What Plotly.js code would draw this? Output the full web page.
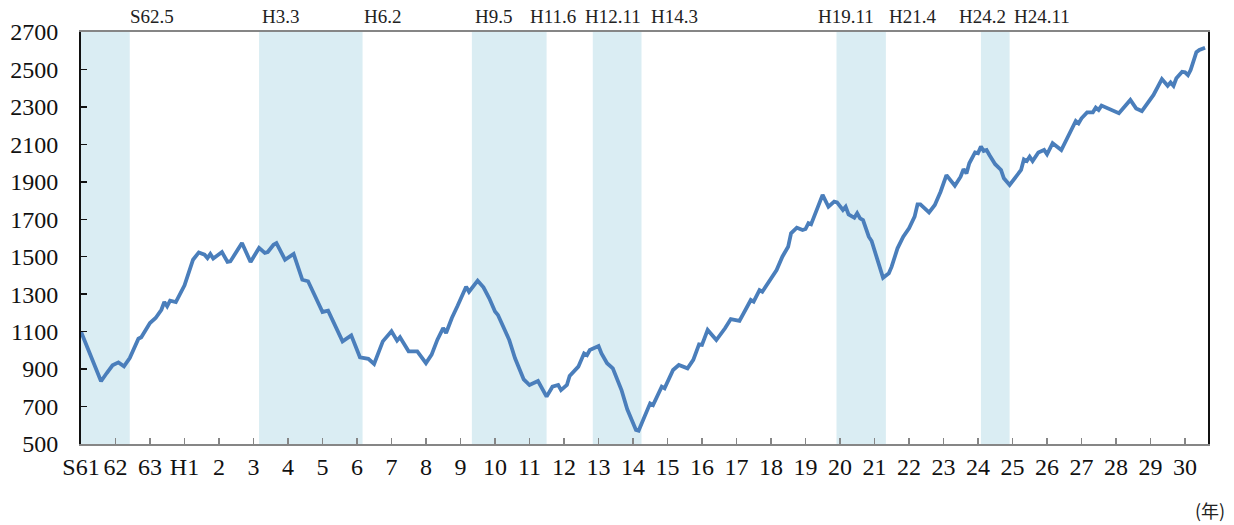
<!DOCTYPE html>
<html>
<head>
<meta charset="utf-8">
<script src="https://cdn.plot.ly/plotly-3.0.1.min.js"></script>
<style>html,body{margin:0;padding:0;background:#fff;}#chart{width:1234px;height:525px;}</style>
</head>
<body>
<div id="chart"></div>
<script>
const months = ['1986-01','1986-08','1986-10','1986-12','1987-02','1987-04','1987-06','1987-09','1987-10','1988-01','1988-03','1988-05','1988-06','1988-07','1988-08','1988-10','1989-01','1989-04','1989-06','1989-08','1989-09','1989-10','1989-11','1990-02','1990-04','1990-05','1990-09','1990-12','1991-03','1991-05','1991-06','1991-08','1991-09','1991-12','1992-03','1992-06','1992-08','1993-01','1993-03','1993-08','1993-11','1994-02','1994-05','1994-07','1994-10','1995-01','1995-03','1995-04','1995-07','1995-10','1996-01','1996-03','1996-05','1996-07','1996-08','1996-10','1996-12','1997-03','1997-04','1997-07','1997-09','1997-11','1998-01','1998-02','1998-06','1998-08','1998-11','1999-01','1999-04','1999-07','1999-09','1999-11','1999-12','2000-02','2000-03','2000-06','2000-08','2000-09','2000-10','2001-01','2001-02','2001-04','2001-06','2001-09','2001-11','2002-02','2002-03','2002-07','2002-08','2002-11','2002-12','2003-03','2003-05','2003-07','2003-08','2003-10','2003-12','2004-01','2004-03','2004-06','2004-07','2004-09','2004-11','2005-02','2005-06','2005-07','2005-09','2005-10','2006-03','2006-05','2006-07','2006-08','2006-10','2006-12','2007-01','2007-02','2007-03','2007-05','2007-07','2007-09','2007-11','2007-12','2008-02','2008-03','2008-04','2008-06','2008-07','2008-08','2008-09','2008-11','2008-12','2009-02','2009-04','2009-06','2009-07','2009-09','2009-11','2010-01','2010-03','2010-04','2010-05','2010-08','2010-10','2010-12','2011-02','2011-05','2011-07','2011-08','2011-09','2011-10','2011-12','2012-01','2012-02','2012-03','2012-04','2012-05','2012-07','2012-09','2012-10','2012-12','2013-02','2013-04','2013-05','2013-06','2013-07','2013-08','2013-10','2013-12','2014-01','2014-03','2014-06','2014-09','2014-11','2014-12','2015-01','2015-03','2015-05','2015-06','2015-07','2015-08','2015-11','2016-02','2016-06','2016-08','2016-10','2016-12','2017-02','2017-05','2017-07','2017-08','2017-09','2017-10','2017-12','2018-01','2018-02','2018-03','2018-05','2018-06','2018-08'];
const values = [1100,835,879,920,936,915,959,1062,1070,1146,1173,1217,1258,1235,1265,1258,1347,1484,1523,1511,1493,1515,1490,1525,1472,1475,1573,1472,1547,1520,1525,1564,1573,1484,1515,1377,1369,1205,1212,1048,1080,963,955,927,1048,1102,1052,1070,995,995,932,977,1057,1119,1093,1173,1238,1340,1313,1372,1337,1278,1207,1189,1055,958,845,815,836,753,806,815,788,815,863,913,984,975,1002,1023,984,931,904,788,685,575,571,717,708,806,797,895,922,913,904,949,1032,1029,1109,1055,1073,1118,1167,1157,1269,1260,1322,1313,1429,1500,1553,1625,1655,1643,1648,1679,1673,1750,1830,1767,1794,1790,1750,1767,1726,1708,1732,1705,1696,1607,1584,1483,1388,1412,1447,1545,1607,1652,1714,1780,1780,1737,1776,1847,1936,1879,1927,1968,1945,1999,2057,2053,2088,2065,2070,2043,1994,1963,1919,1883,1922,1963,2020,2011,2034,2011,2057,2070,2047,2106,2070,2168,2225,2212,2239,2271,2271,2296,2284,2307,2289,2266,2337,2292,2278,2319,2364,2449,2413,2431,2413,2453,2488,2485,2470,2497,2592,2604,2616];

const yearTicks = ['1986-01-01','1987-01-01','1988-01-01','1989-01-01','1990-01-01','1991-01-01','1992-01-01','1993-01-01','1994-01-01','1995-01-01','1996-01-01','1997-01-01','1998-01-01','1999-01-01','2000-01-01','2001-01-01','2002-01-01','2003-01-01','2004-01-01','2005-01-01','2006-01-01','2007-01-01','2008-01-01','2009-01-01','2010-01-01','2011-01-01','2012-01-01','2013-01-01','2014-01-01','2015-01-01','2016-01-01','2017-01-01','2018-01-01'];
const yearLabels = ['S61','62','63','H1','2','3','4','5','6','7','8','9','10','11','12','13','14','15','16','17','18','19','20','21','22','23','24','25','26','27','28','29','30'];

const shadeStart = ['1986-01-01','1991-03-01','1997-05-01','2000-11-01','2007-11-25','2012-02-01'];
const shadeEnd   = ['1987-06-01','1994-03-01','1999-07-01','2002-04-01','2009-05-01','2012-12-01'];

const turnLabels = ['S62.5','H3.3','H6.2','H9.5','H11.6','H12.11','H14.3','H19.11','H21.4','H24.2','H24.11'];
const turnLabelPx = [128,260,362,473,528,583,649,816,887,957,1012];

const serif = '"Liberation Serif", "Noto Sans CJK JP", serif';
const plotL = 81, plotR = 1208;

const shapes = shadeStart.map((s, i) => ({
  type: 'rect', xref: 'x', yref: 'paper', x0: s, x1: shadeEnd[i], y0: 0, y1: 1,
  fillcolor: '#DAEDF3', line: {width: 0}, layer: 'below'
}));

const annotations = turnLabels.map((t, i) => ({
  text: t, xref: 'paper', yref: 'paper',
  x: (turnLabelPx[i] - plotL) / (plotR - plotL), y: 1, yanchor: 'bottom', xanchor: 'left',
  yshift: 3, showarrow: false, font: {family: serif, size: 19, color: '#222'}
}));
annotations.push({
  text: '(年)', xref: 'paper', yref: 'paper', x: 1.017, y: -0.16, xanchor: 'right', yanchor: 'middle',
  showarrow: false, font: {family: '"Noto Sans CJK JP", serif', size: 18, color: '#222'}
});

const trace = {
  x: months, y: values, type: 'scatter', mode: 'lines',
  line: {color: '#4A7EBB', width: 3.8}, hoverinfo: 'skip'
};

const layout = {
  width: 1234, height: 525,
  margin: {l: plotL, r: 1234 - plotR, t: 32, b: 81},
  paper_bgcolor: '#fff', plot_bgcolor: '#fff',
  showlegend: false,
  xaxis: {
    type: 'date', range: ['1986-01-01', '2018-09-01'],
    tickmode: 'array', tickvals: yearTicks, ticktext: yearLabels,
    ticks: 'inside', ticklen: 6, tickcolor: '#868686', tickwidth: 1.5,
    showline: true, linecolor: '#868686', linewidth: 2, mirror: true,
    showgrid: false, zeroline: false,
    tickfont: {family: serif, size: 24, color: '#111'}
  },
  yaxis: {
    range: [500, 2700], tickmode: 'array',
    tickvals: [500,700,900,1100,1300,1500,1700,1900,2100,2300,2500,2700],
    ticks: 'inside', ticklen: 6, tickcolor: '#111', tickwidth: 1.5,
    showline: true, linecolor: '#111', linewidth: 2, mirror: true,
    showgrid: false, zeroline: false,
    ticklabelstandoff: 16,
    tickfont: {family: serif, size: 24, color: '#111'}
  },
  shapes: shapes,
  annotations: annotations
};

Plotly.newPlot('chart', [trace], layout, {staticPlot: true, displayModeBar: false});
</script>
</body>
</html>
